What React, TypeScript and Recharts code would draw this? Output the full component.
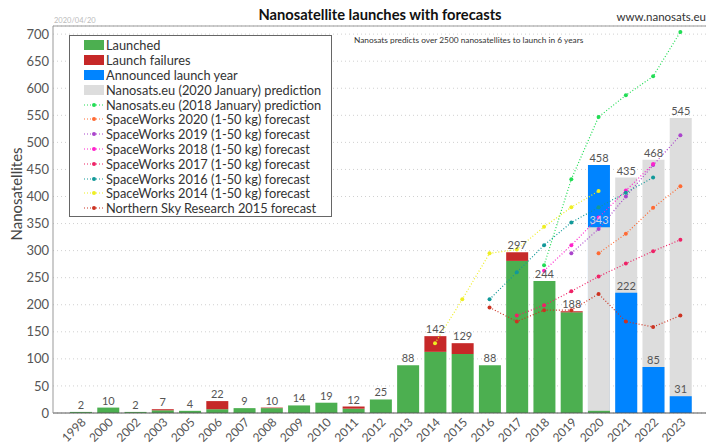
import React from "react";
import {
  ComposedChart,
  Bar,
  Line,
  XAxis,
  YAxis,
  CartesianGrid,
  Legend,
  LabelList,
  ReferenceLine,
} from "recharts";

const years = [
  "1998", "2000", "2002", "2003", "2005", "2006", "2007", "2008", "2009", "2010", "2011", "2012",
  "2013", "2014", "2015", "2016", "2017", "2018", "2019", "2020", "2021", "2022", "2023",
];

const launched = [2, 10, 2, 5, 4, 7, 9, 9, 14, 19, 8, 25, 88, 113, 109, 88, 281, 244, 186, 4, null, null, null];
const failures = [0, 0, 0, 2, 0, 15, 0, 1, 0, 0, 4, 0, 0, 29, 20, 0, 16, 0, 2, 0, null, null, null];
const announced = [null, null, null, null, null, null, null, null, null, null, null, null, null, null, null, null, null, null, null, 458, 222, 85, 31];
const prediction2020 = [null, null, null, null, null, null, null, null, null, null, null, null, null, null, null, null, null, null, null, 343, 435, 468, 545];

const nanosats2018 = [null, null, null, null, null, null, null, null, null, null, null, null, null, null, null, null, null, 273, 432, 547, 587, 622, 704];
const sw2020 = [null, null, null, null, null, null, null, null, null, null, null, null, null, null, null, null, null, null, null, 295, 331, 379, 419];
const sw2019 = [null, null, null, null, null, null, null, null, null, null, null, null, null, null, null, null, null, null, 295, 340, 400, 458, 513];
const sw2018 = [null, null, null, null, null, null, null, null, null, null, null, null, null, null, null, null, null, 263, 310, 361, 411, 460, null];
const sw2017 = [null, null, null, null, null, null, null, null, null, null, null, null, null, null, null, null, 180, 199, 225, 252, 276, 299, 320];
const sw2016 = [null, null, null, null, null, null, null, null, null, null, null, null, null, null, null, 210, 260, 310, 352, 380, 407, 435, null];
const sw2014 = [null, null, null, null, null, null, null, null, null, null, null, null, null, 129, 210, 295, 302, 344, 380, 410, null, null, null];
const nsr2015 = [null, null, null, null, null, null, null, null, null, null, null, null, null, null, null, 195, 169, 190, 190, 220, 169, 159, 180];

const yTicks = [0, 50, 100, 150, 200, 250, 300, 350, 400, 450, 500, 550, 600, 650, 700];

const FONT = "Lato, 'DejaVu Sans', sans-serif";

const lineSeries = [
  { key: "nanosats2018", name: "Nanosats.eu (2018 January) prediction", color: "#22dd55", values: nanosats2018 },
  { key: "sw2020", name: "SpaceWorks 2020 (1-50 kg) forecast", color: "#ff6a33", values: sw2020 },
  { key: "sw2019", name: "SpaceWorks 2019 (1-50 kg) forecast", color: "#aa44cc", values: sw2019 },
  { key: "sw2018", name: "SpaceWorks 2018 (1-50 kg) forecast", color: "#ff22cc", values: sw2018 },
  { key: "sw2017", name: "SpaceWorks 2017 (1-50 kg) forecast", color: "#ee2266", values: sw2017 },
  { key: "sw2016", name: "SpaceWorks 2016 (1-50 kg) forecast", color: "#119999", values: sw2016 },
  { key: "sw2014", name: "SpaceWorks 2014 (1-50 kg) forecast", color: "#eeee22", values: sw2014 },
  { key: "nsr2015", name: "Northern Sky Research 2015 forecast", color: "#cc3322", values: nsr2015 },
];

const barLegend = [
  { name: "Launched", color: "#4caf50" },
  { name: "Launch failures", color: "#c62828" },
  { name: "Announced launch year", color: "#0084ff" },
  { name: "Nanosats.eu (2020 January) prediction", color: "#dddddd" },
];

const data = years.map((year, i) => {
  const hasTotal = announced[i] == null && launched[i] != null;
  const total = hasTotal ? launched[i] + failures[i] : null;
  const row: any = {
    year,
    launched: launched[i],
    failures: failures[i],
    // label sits on whichever bar is the top of the stack
    totalOnLaunched: hasTotal && failures[i] === 0 ? total : null,
    totalOnFailures: hasTotal && failures[i] > 0 ? total : null,
    announced: announced[i],
    predBack:
      prediction2020[i] != null && (announced[i] == null || prediction2020[i] >= announced[i])
        ? prediction2020[i]
        : null,
    predFront:
      prediction2020[i] != null && announced[i] != null && prediction2020[i] < announced[i]
        ? prediction2020[i]
        : null,
  };
  lineSeries.forEach((s) => {
    row[s.key] = s.values[i];
  });
  return row;
});

const XTick = ({ x, y, payload }: any) => (
  <text
    x={x + 6}
    y={y + 2}
    transform={`rotate(-45, ${x + 6}, ${y + 2})`}
    textAnchor="end"
    fontSize={12}
    fill="#555"
    fontFamily={FONT}
  >
    {payload.value}
  </text>
);

const LegendBox = () => (
  <div
    style={{
      width: 263,
      height: 182,
      border: "1px solid #666",
      background: "#fff",
      fontFamily: FONT,
      fontSize: 12.8,
      color: "#333",
      paddingTop: 2,
      boxSizing: "border-box",
    }}
  >
    {barLegend.map((item) => (
      <div key={item.name} style={{ display: "flex", alignItems: "center", height: 14.8 }}>
        <span style={{ display: "inline-block", marginLeft: 14, width: 20, height: 10, background: item.color }} />
        <span style={{ marginLeft: 2 }}>{item.name}</span>
      </div>
    ))}
    {lineSeries.map((item) => (
      <div key={item.key} style={{ display: "flex", alignItems: "center", height: 14.8 }}>
        <svg width={22} height={10} style={{ marginLeft: 14 }}>
          <line x1={0} y1={5} x2={20} y2={5} stroke={item.color} strokeDasharray="1 2" />
          <circle cx={10} cy={5} r={2} fill={item.color} />
        </svg>
        <span>{item.name}</span>
      </div>
    ))}
  </div>
);

const YLabel = () => (
  <text
    x={16}
    y={194}
    transform="rotate(-90, 16, 194)"
    textAnchor="middle"
    dominantBaseline="central"
    fontSize={15}
    fill="#444"
    fontFamily={FONT}
  >
    Nanosatellites
  </text>
);

export default function App() {
  return (
    <div style={{ position: "relative", width: 706, height: 443, overflow: "hidden" }}>
      <style>{`body { margin: 0; overflow: hidden; }`}</style>
      <div
        style={{
          position: "absolute",
          left: 54,
          width: 652,
          top: 5,
          textAlign: "center",
          fontFamily: FONT,
          fontWeight: "bold",
          fontSize: 14.7,
          color: "#111",
        }}
      >
        Nanosatellite launches with forecasts
      </div>
      <div style={{ position: "absolute", right: 0, top: 10, fontFamily: FONT, fontSize: 11.5, color: "#333" }}>
        www.nanosats.eu
      </div>
      <div style={{ position: "absolute", left: 54, top: 16, fontFamily: FONT, fontSize: 7.5, color: "#bbb" }}>
        2020/04/20
      </div>
      <div style={{ position: "absolute", left: 354, top: 35, fontFamily: FONT, fontSize: 8.3, color: "#333" }}>
        Nanosats predicts over 2500 nanosatellites to launch in 6 years
      </div>
      <ComposedChart
        width={706}
        height={443}
        data={data}
        margin={{ top: 26, right: 0, bottom: 0, left: 0 }}
        style={{ position: "absolute", left: 0, top: 0 }}
      >
        <CartesianGrid vertical={false} stroke="#d0d0d0" strokeDasharray="1 3" />
        <XAxis
          dataKey="year"
          xAxisId="main"
          interval={0}
          height={30}
          padding={{ left: 14, right: 12 }}
          tick={<XTick />}
          tickLine={false}
          axisLine={{ stroke: "#555" }}
        />
        {/* extra hidden axes so the announced / prediction bars overlap instead of sitting side by side */}
        <XAxis dataKey="year" xAxisId="back" hide height={0} padding={{ left: 14, right: 12 }} />
        <XAxis dataKey="year" xAxisId="blue" hide height={0} padding={{ left: 14, right: 12 }} />
        <XAxis dataKey="year" xAxisId="front" hide height={0} padding={{ left: 14, right: 12 }} />
        <YAxis
          width={53}
          domain={[0, 715]}
          ticks={yTicks}
          interval={0}
          tickLine={false}
          tickSize={0}
          tickMargin={4}
          axisLine={{ stroke: "#999" }}
          tick={{ fontSize: 13, fill: "#555", fontFamily: FONT }}
          label={<YLabel />}
        />
        <ReferenceLine y={715} xAxisId="main" stroke="#999" />

        <Bar dataKey="predBack" xAxisId="back" fill="#dddddd" barSize={22} isAnimationActive={false}>
          <LabelList dataKey="predBack" position="top" offset={3} fill="#555" fontSize={11} fontFamily={FONT} />
        </Bar>
        <Bar dataKey="announced" xAxisId="blue" fill="#0084ff" barSize={22} isAnimationActive={false}>
          <LabelList dataKey="announced" position="top" offset={3} fill="#555" fontSize={11} fontFamily={FONT} />
        </Bar>
        <Bar dataKey="predFront" xAxisId="front" fill="#dddddd" barSize={22} isAnimationActive={false}>
          <LabelList dataKey="predFront" position="top" offset={3} fill="#c8d4e6" fontSize={11} fontFamily={FONT} />
        </Bar>
        <Bar dataKey="launched" xAxisId="main" stackId="a" fill="#4caf50" barSize={22} isAnimationActive={false}>
          <LabelList dataKey="totalOnLaunched" position="top" offset={3} fill="#555" fontSize={11} fontFamily={FONT} />
        </Bar>
        <Bar dataKey="failures" xAxisId="main" stackId="a" fill="#c62828" barSize={22} isAnimationActive={false}>
          <LabelList dataKey="totalOnFailures" position="top" offset={3} fill="#555" fontSize={11} fontFamily={FONT} />
        </Bar>

        {lineSeries.map((s) => (
          <Line
            key={s.key}
            dataKey={s.key}
            name={s.name}
            xAxisId="main"
            stroke={s.color}
            strokeWidth={1.2}
            strokeDasharray="1 2"
            dot={{ r: 2, fill: s.color, stroke: "none" }}
            activeDot={false}
            isAnimationActive={false}
          />
        ))}

        <Legend
          layout="vertical"
          align="center"
          verticalAlign="middle"
          wrapperStyle={{ left: 69, top: 35, width: 263, height: 182 }}
          content={<LegendBox />}
        />
      </ComposedChart>
    </div>
  );
}
